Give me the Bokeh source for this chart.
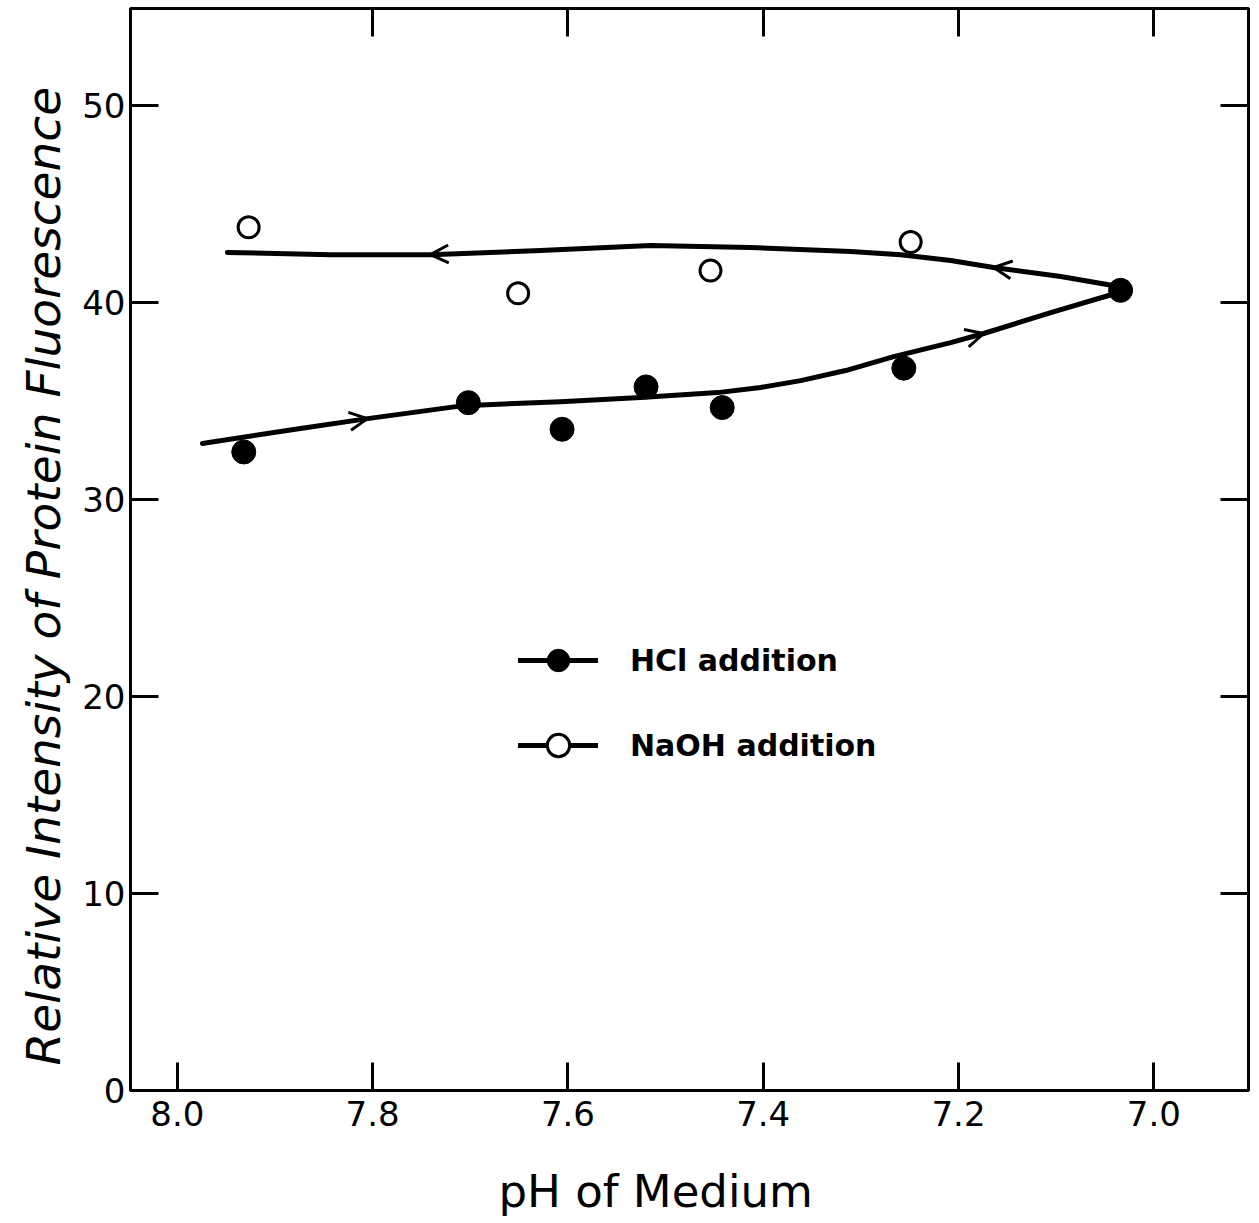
from bokeh.plotting import figure
from bokeh.models import (Range1d, LinearAxis, FixedTicker, Legend, LegendItem,
                          Arrow, OpenHead, Title, Label)
from bokeh.embed import file_html
from bokeh.resources import INLINE

# ---- data ----
hcl_ph = [7.932, 7.702, 7.606, 7.520, 7.442, 7.256, 7.034]
hcl_int = [32.4, 34.9, 33.55, 35.7, 34.65, 36.65, 40.6]
naoh_ph = [7.927, 7.651, 7.454, 7.249]
naoh_int = [43.8, 40.45, 41.6, 43.05]

hcl_curve_ph = [7.9744, 7.8740, 7.8053, 7.7070, 7.6076, 7.5256, 7.4467, 7.4027,
                7.3617, 7.3156, 7.2664, 7.2080, 7.1742, 7.1055, 7.0359]
hcl_curve_int = [32.83, 33.59, 34.09, 34.75, 34.95, 35.16, 35.41, 35.67,
                 36.02, 36.53, 37.24, 37.95, 38.41, 39.47, 40.49]
naoh_curve_ph = [7.9488, 7.8432, 7.7408, 7.6281, 7.5154, 7.4129, 7.3105, 7.2592,
                 7.2080, 7.1639, 7.0953, 7.0359]
naoh_curve_int = [42.52, 42.41, 42.41, 42.62, 42.87, 42.77, 42.57, 42.41,
                  42.11, 41.76, 41.30, 40.79]

# arrows: (from index, to index) along each curve
hcl_arrows = [(1, 2), (11, 12)]
naoh_arrows = [(3, 2), (10, 9)]

x_ticks = [8.0, 7.8, 7.6, 7.4, 7.2, 7.0]
x_tick_labels = ["8.0", "7.8", "7.6", "7.4", "7.2", "7.0"]
x_ticks_top = [7.8, 7.6, 7.4, 7.2, 7.0]
y_ticks = [0, 10, 20, 30, 40, 50]
y_tick_labels = ["0", "10", "20", "30", "40", "50"]

x_title = "pH of Medium"
y_title = "Relative Intensity of Protein Fluorescence"
hcl_label = "HCl addition"
naoh_label = "NaOH addition"

p = figure(width=1259, height=1223,
           x_range=Range1d(8.048, 6.903), y_range=Range1d(0, 54.9),
           output_backend="svg", toolbar_location=None,
           x_axis_location=None, y_axis_location=None,
           min_border_left=130, min_border_right=11,
           min_border_top=8, min_border_bottom=133)
p.grid.visible = False
p.outline_line_color = "black"
p.outline_line_width = 3
p.background_fill_color = "white"
p.border_fill_color = "white"


def style_axis(ax, font_size):
    ax.major_tick_in = 28
    ax.major_tick_out = 0
    ax.minor_tick_in = 0
    ax.minor_tick_out = 0
    ax.axis_line_width = 3
    ax.axis_line_color = "black"
    ax.major_tick_line_width = 3
    ax.major_tick_line_color = "black"
    ax.major_label_text_font = "DejaVu Sans"
    ax.major_label_text_font_size = font_size
    ax.major_label_text_color = "black"


bottom = LinearAxis(ticker=FixedTicker(ticks=x_ticks),
                    major_label_overrides={t: l for t, l in zip(x_ticks, x_tick_labels)})
style_axis(bottom, "34px")
bottom.major_label_standoff = 10
p.add_layout(bottom, "below")

top = LinearAxis(ticker=FixedTicker(ticks=x_ticks_top))
style_axis(top, "0px")
top.major_label_text_color = None
top.major_label_standoff = 0
p.add_layout(top, "above")

left = LinearAxis(ticker=FixedTicker(ticks=y_ticks),
                  major_label_overrides={t: l for t, l in zip(y_ticks, y_tick_labels)})
style_axis(left, "34px")
left.major_label_standoff = 5
p.add_layout(left, "left")

right = LinearAxis(ticker=FixedTicker(ticks=y_ticks[1:]))
style_axis(right, "0px")
right.major_label_text_color = None
right.major_label_standoff = 0
p.add_layout(right, "right")

# curves
hcl_line = p.line(hcl_curve_ph, hcl_curve_int, line_color="black", line_width=5,
                  line_cap="round", line_join="round")
naoh_line = p.line(naoh_curve_ph, naoh_curve_int, line_color="black", line_width=5,
                   line_cap="round", line_join="round")

for (a, b) in hcl_arrows:
    p.add_layout(Arrow(end=OpenHead(size=18, line_width=3, line_color="black"),
                       x_start=hcl_curve_ph[a], y_start=hcl_curve_int[a],
                       x_end=hcl_curve_ph[b], y_end=hcl_curve_int[b],
                       line_alpha=0))
for (a, b) in naoh_arrows:
    p.add_layout(Arrow(end=OpenHead(size=18, line_width=3, line_color="black"),
                       x_start=naoh_curve_ph[a], y_start=naoh_curve_int[a],
                       x_end=naoh_curve_ph[b], y_end=naoh_curve_int[b],
                       line_alpha=0))

hcl_pts = p.scatter(hcl_ph, hcl_int, marker="circle", size=24,
                    fill_color="black", line_color="black")
naoh_pts = p.scatter(naoh_ph, naoh_int, marker="circle", size=21,
                     fill_color="white", line_color="black", line_width=3)

legend = Legend(items=[LegendItem(label=hcl_label, renderers=[hcl_line, hcl_pts]),
                       LegendItem(label=naoh_label, renderers=[naoh_line, naoh_pts])],
                location=(388, 317), orientation="vertical",
                glyph_width=80, glyph_height=56, spacing=29, label_standoff=32,
                padding=0, margin=0, border_line_alpha=0, background_fill_alpha=0,
                label_text_font="DejaVu Sans", label_text_font_style="bold",
                label_text_font_size="30px", label_text_color="black")
p.add_layout(legend)

p.add_layout(Title(text=y_title, align="left", offset=25, standoff=17,
                   text_font="DejaVu Sans", text_font_size="47px",
                   text_font_style="italic", text_color="black"), "left")

p.add_layout(Label(x=7.5102, y=-5.15, text=x_title, text_font="DejaVu Sans",
                   text_font_size="45px", text_align="center",
                   text_baseline="alphabetic", text_color="black"), "below")

open("out.html", "w").write(file_html(p, INLINE))
